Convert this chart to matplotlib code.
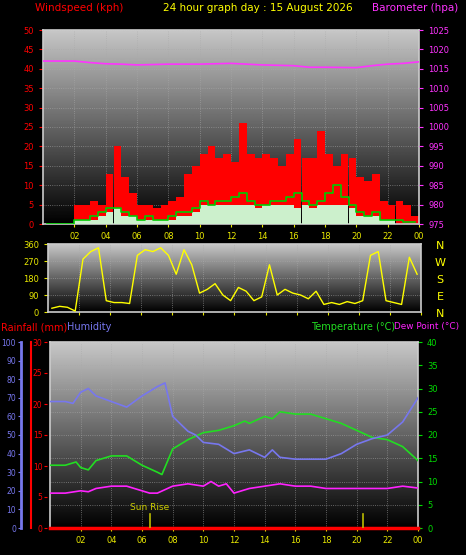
import numpy as np
import matplotlib
matplotlib.use("Agg")
import matplotlib.pyplot as plt

# ---------------- data ----------------
half_hours = np.arange(0.25, 24, 0.5)
gust = [0,0,0,0, 5,5,6,5, 13,20,12,8, 5,5,4,5, 6,7,13,15, 18,20,17,18,
        16,26,18,17, 18,17,15,18, 22,17,17,24, 18,15,18,17, 12,11,13,6, 5,6,5,2]
avg_wind = [0,0,0,0, 1,1,2,3, 4,4,3,2, 1,2,1,1, 2,3,3,4, 6,5,6,6,
            7,8,6,5, 5,6,6,7, 8,6,5,6, 8,10,7,5, 3,2,3,1, 1,1,0.5,0.5]
wind_speed = [0,0,0,0, 1,1,1,2, 3,4,2,2, 1,1,1,1, 1,2,2,3, 5,5,5,5,
              5,5,5,4, 5,5,5,5, 4,5,4,5, 5,5,5,4, 2,2,2,1, 1,0,0,0]
baro_t = [0,2,3,4,5,6,8,10,12,13,14,16,17,18,20,21,22,23,24]
baro = [1017,1017,1016.6,1016.3,1016.2,1016,1016.2,1016.2,1016.4,1016.2,1016,1015.8,1015.4,1015.4,1015.3,1015.8,1016.2,1016.4,1016.8]
direction = [20,30,25,5, 280,320,340,60, 50,50,45,300, 330,320,340,300, 200,330,250,100,
             120,150,90,60, 130,110,60,80, 250,90,120,100, 90,70,110,40, 50,40,55,45,
             60,300,320,60, 50,40,290,200]
hum_t = [0,1,1.5,2,2.5,3,4,5,5.5,6,7,7.5,8,9,9.5,10,11,12,13,14,14.5,15,16,17,18,19,20,21,22,23,24]
humidity = [68,68,67,73,75,71,68,65,68,71,76,78,60,52,50,46,45,40,42,38,42,38,37,37,37,40,45,48,50,57,70]
temp_t = [0,1,1.7,2,2.5,3,4,5,6,7,7.3,8,9,10,11,12,12.7,13,14,14.5,15,16,17,18,19,20,21,22,23,24]
temperature = [13.5,13.5,14.2,13,12.5,14.5,15.5,15.5,13.5,12,11.5,17,19,20.5,21,22,23,22.5,24,23.5,25,24.5,24.5,23.5,22.5,21,19.5,19,17.5,14.5]
dew_t = [0,1,2,2.5,3,4,5,6,6.5,7,8,9,10,10.5,11,11.5,12,13,14,15,16,17,18,19,20,21,22,23,24]
dewpoint = [7.5,7.5,8,7.8,8.5,9,9,8,7.5,7.5,9,9.5,9,10,9,9.5,7.5,8.5,9,9.5,9,9,8.5,8.5,8.5,8.5,8.5,9,8.6]
rain_t = [0,24]
rainfall = [0,0]
sunrise, sunset = 6.5, 20.4
hour_ticks = list(range(2, 25, 2))
hour_labels = ["02","04","06","08","10","12","14","16","18","20","22","00"]

W, H = 466, 555
fig = plt.figure(figsize=(W/100, H/100), dpi=100, facecolor="black")

def box(x0, y0, x1, y1):
    return [x0/W, 1-y1/H, (x1-x0)/W, (y1-y0)/H]

grad = np.linspace(0.78, 0.0, 256).reshape(-1, 1)

def setup(ax, ylim, ycol, yticks):
    ax.set_facecolor("black")
    ax.imshow(grad, cmap="gray", vmin=0, vmax=1, aspect="auto",
              extent=[0, 24, ylim[0], ylim[1]], zorder=0)
    ax.set_xlim(0, 24); ax.set_ylim(*ylim)
    ax.set_xticks(hour_ticks); ax.set_xticklabels(hour_labels)
    ax.set_yticks(yticks)
    ax.tick_params(axis="x", colors="#e8e800", labelsize=6, length=2)
    ax.tick_params(axis="y", colors=ycol, labelsize=6, length=3)
    ax.grid(color="#aaaaaa", linestyle=":", linewidth=0.6, alpha=0.7)
    for s in ax.spines.values():
        s.set_color("#cccccc"); s.set_linewidth(1.2)

# ---------- top panel ----------
ax1 = fig.add_axes(box(43, 30, 419, 224))
setup(ax1, (0, 50), "red", range(0, 51, 5))
ax1.bar(half_hours, gust, width=0.5, color="#ff0000", zorder=2)
ax1.bar(half_hours, wind_speed, width=0.5, color="#ccf0cc", zorder=3)
ax1.step(half_hours, avg_wind, where="mid", color="#00cc00", lw=1.2, zorder=4)
ax1b = ax1.twinx()
ax1b.set_ylim(975, 1025); ax1b.set_yticks(range(975, 1026, 5))
ax1b.tick_params(axis="y", colors="#ff33ff", labelsize=6, length=3)
ax1b.plot(baro_t, baro, color="#ff33ff", lw=1.2)
for s in ax1b.spines.values(): s.set_visible(False)
fig.text(35/W, 1-8/H, "Windspeed (kph)", color="red", fontsize=7.5, va="center")
fig.text(258/W, 1-8/H, "24 hour graph day : 15 August 2026", color="#ffff00", fontsize=7.5, va="center", ha="center")
fig.text(372/W, 1-8/H, "Barometer (hpa)", color="#ff33ff", fontsize=7.5, va="center")

# ---------- middle panel ----------
ax2 = fig.add_axes(box(48, 244, 421, 312))
setup(ax2, (0, 360), "#e8e800", [0, 90, 180, 270, 360])
ax2.plot(half_hours, direction, color="#ffff00", lw=1.0, zorder=3)
ax2.tick_params(axis="x", labelbottom=False, labeltop=False)
for i, l in enumerate(["N", "W", "S", "E", "N"]):
    fig.text(440/W, 1-(246+i*17)/H, l, color="#ffff00", fontsize=8, ha="center", va="center")

# ---------- bottom panel ----------
ax3 = fig.add_axes(box(50, 342, 418, 528))
setup(ax3, (0, 40), "#00dd00", range(0, 41, 5))
ax3.plot(temp_t, temperature, color="#22dd22", lw=1.2, zorder=3)
ax3.plot(dew_t, dewpoint, color="#ff22ff", lw=1.2, zorder=3)
ax3.plot(rain_t, [r*40/30 for r in rainfall], color="red", lw=2.5, zorder=4, clip_on=False)
for t in (sunrise, sunset):
    ax3.plot([t, t], [0, 3], color="#bbbb00", lw=1.2, zorder=4)
ax3.text(sunrise, 3.8, "Sun Rise", color="#cccc00", fontsize=6.5, ha="center")

ax3h = ax3.twinx()
ax3h.set_ylim(0, 100)
ax3h.plot(hum_t, humidity, color="#7777ee", lw=1.2)
ax3h.yaxis.tick_left()
ax3h.set_yticks(range(0, 101, 10))
ax3h.tick_params(axis="y", colors="#7777ee", labelsize=5.5, length=2, pad=1.5)
ax3h.spines["left"].set_position(("outward", 21)); ax3h.spines["left"].set_color("#7777ee")
ax3h.spines["left"].set_linewidth(2)
for k in ("right", "top", "bottom"): ax3h.spines[k].set_visible(False)

ax3r = ax3.twinx()
ax3r.set_ylim(0, 30); ax3r.set_yticks(range(0, 31, 5))
ax3r.yaxis.tick_left()
ax3r.tick_params(axis="y", colors="red", labelsize=5.5, length=2, pad=1.5)
ax3r.spines["left"].set_position(("outward", 2)); ax3r.spines["left"].set_visible(False)
for k in ("right", "top", "bottom"): ax3r.spines[k].set_visible(False)
# red rainfall axis bar beside humidity axis
fig.add_artist(plt.Line2D([31/W, 31/W], [1-528/H, 1-342/H], color="red", lw=1.5))

# temperature ticks on the right (after twinx, which resets them)
ax3.yaxis.tick_right()
ax3.tick_params(axis="y", colors="#00dd00", labelsize=6, length=3)

fig.text(1/W, 1-327/H, "Rainfall (mm)", color="red", fontsize=7, va="center")
fig.text(67/W, 1-327/H, "Humidity", color="#7777ee", fontsize=7, va="center")
fig.text(311/W, 1-327/H, "Temperature (°C)", color="#22dd22", fontsize=7, va="center")
fig.text(394/W, 1-327/H, "Dew Point (°C)", color="#ff22ff", fontsize=6.4, va="center")

fig.savefig("out.png", dpi=100, facecolor="black")
